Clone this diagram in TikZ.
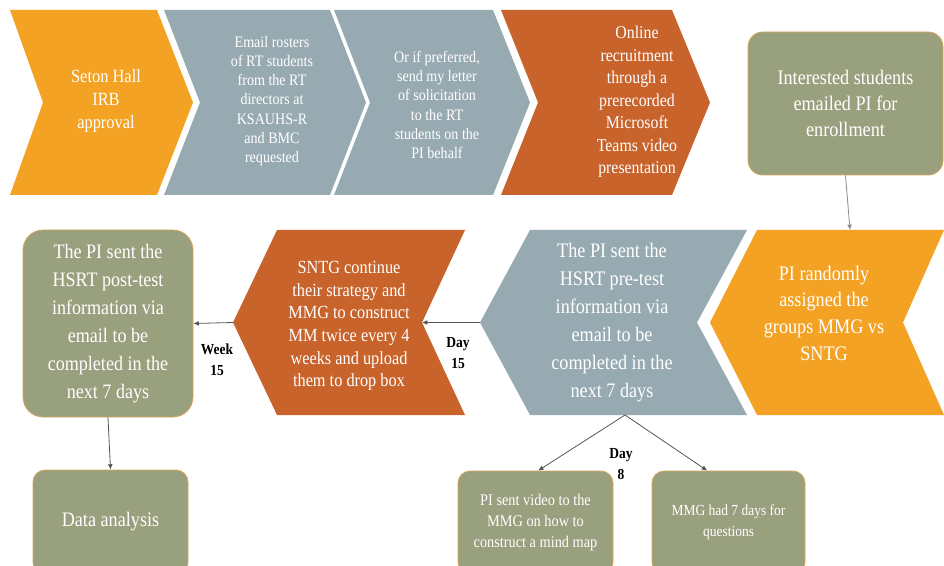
\documentclass[tikz,border=0pt]{standalone}
\usepackage{fontspec}
\setmainfont{Liberation Serif}[FakeStretch=0.88]
\usetikzlibrary{arrows.meta}
\definecolor{lorange}{HTML}{F4A224}
\definecolor{grayblue}{HTML}{97AAB1}
\definecolor{dorange}{HTML}{C8632C}
\definecolor{olivebox}{HTML}{99A07E}
\definecolor{boxedge}{HTML}{D9A65A}
\definecolor{linegray}{HTML}{555555}
\definecolor{lightline}{HTML}{8A8A8A}
\newcommand{\fs}[2]{\fontsize{#1}{#2}\selectfont}
\begin{document}
\begin{tikzpicture}[x=0.75pt,y=-0.75pt,
  tx/.style={text=white, align=center, inner sep=0pt},
  boxst/.style={draw=boxedge, fill=olivebox, line width=0.6pt, text=white, align=center, inner sep=0pt},
  conn/.style={draw=linegray, line width=0.6pt, -{Latex[length=4pt,width=3.6pt]}},
  lbl/.style={text=black, align=center, inner sep=0pt, font=\fs{11.5}{16}\bfseries}]
\useasboundingbox (0,0) rectangle (944,566);
\clip (0,0) rectangle (944,566);
\fill[white] (0,0) rectangle (944,566);

% ---- top row chevrons ----
\fill[lorange] (10,10) -- (157,10) -- (193,102.5) -- (157,195) -- (10,195) -- (43,102.5) -- cycle;
\fill[grayblue] (164,10) -- (330,10) -- (366,102.5) -- (330,195) -- (164,195) -- (200,102.5) -- cycle;
\fill[grayblue] (334,10) -- (493,10) -- (530,102.5) -- (493,195) -- (334,195) -- (370,102.5) -- cycle;
\fill[dorange] (501,10) -- (672,10) -- (710,102.5) -- (672,195) -- (501,195) -- (538,102.5) -- cycle;

\node[tx, font=\fs{14}{17.25}] (c1) at (106,101) {Seton Hall\\IRB\\approval};
\node[tx, font=\fs{12}{14.4}] (c2) at (272,101) {Email rosters\\of RT students\\from the RT\\directors at\\KSAUHS-R\\and BMC\\requested};
\node[tx, font=\fs{12}{14.4}] (c3) at (437,105) {Or if preferred,\\send my letter\\of solicitation\\to the RT\\students on the\\PI behalf};
\node[tx, font=\fs{13.5}{16.9}] (c4) at (637,102) {Online\\recruitment\\through a\\prerecorded\\Microsoft\\Teams video\\presentation};

\node[boxst, rounded corners=11pt, minimum width=146.25pt, minimum height=107.25pt, font=\fs{15.5}{19.5}] (int) at (845.5,103.5) {Interested students\\emailed PI for\\enrollment};

% ---- second row ----
\fill[lorange] (757,230) -- (944,230) -- (903,322.5) -- (944,415) -- (757,415) -- (710,322.5) -- cycle;
\fill[grayblue] (530,230) -- (747,230) -- (697,322.5) -- (747,415) -- (530,415) -- (480,322.5) -- cycle;
\fill[dorange] (277,230) -- (465,230) -- (422,322.5) -- (465,415) -- (277,415) -- (233,322.5) -- cycle;

\coordinate (c5top) at (850,230);
\coordinate (c6tip) at (480,322.5);
\coordinate (c6bot) at (625,415);
\coordinate (c7notch) at (422,322.5);
\coordinate (c7tip) at (233,322.5);

\node[tx, font=\fs{15.5}{20}] (c5) at (824,313) {PI randomly\\assigned the\\groups MMG vs\\SNTG};
\node[tx, font=\fs{15.5}{21}] (c6) at (612,323) {The PI sent the\\HSRT pre-test\\information via\\email to be\\completed in the\\next 7 days};
\node[tx, font=\fs{13.9}{17}] (c7) at (349,326) {SNTG continue\\their strategy and\\MMG to construct\\MM twice every 4\\weeks and upload\\them to drop box};

\node[boxst, rounded corners=15pt, minimum width=127.5pt, minimum height=140.25pt, font=\fs{15.4}{21}] (post) at (108,323.5) {The PI sent the\\HSRT post-test\\information via\\email to be\\completed in the\\next 7 days};

% ---- bottom row ----
\node[boxst, rounded corners=9pt, minimum width=116.25pt, minimum height=78pt, font=\fs{15.5}{19}] (data) at (110.5,522) {Data analysis};
\node[boxst, rounded corners=9pt, minimum width=116.25pt, minimum height=77.25pt, font=\fs{12.2}{15.75}] (b1) at (535.5,522.5) {PI sent video to the\\MMG on how to\\construct a mind map};
\node[boxst, rounded corners=9pt, minimum width=114.75pt, minimum height=77.25pt, font=\fs{11.5}{15.75}] (b2) at (728.5,522.5) {MMG had 7 days for\\questions};

% ---- connectors ----
\draw[conn, draw=lightline] (int.south) -- (c5top);
\draw[conn] (c6tip) -- (c7notch);
\draw[conn] (c7tip) -- (post.east);
\draw[conn] (post.south) -- (data.north);
\draw[conn] (c6bot) -- ([xshift=2pt]b1.north);
\draw[conn] (c6bot) -- ([xshift=-16pt]b2.north);

% ---- labels ----
\node[lbl] (week) at (217,360) {Week\\15};
\node[lbl] (day15) at (458,353) {Day\\15};
\node[lbl] (day8) at (621,464) {Day\\8};
\end{tikzpicture}
\end{document}
